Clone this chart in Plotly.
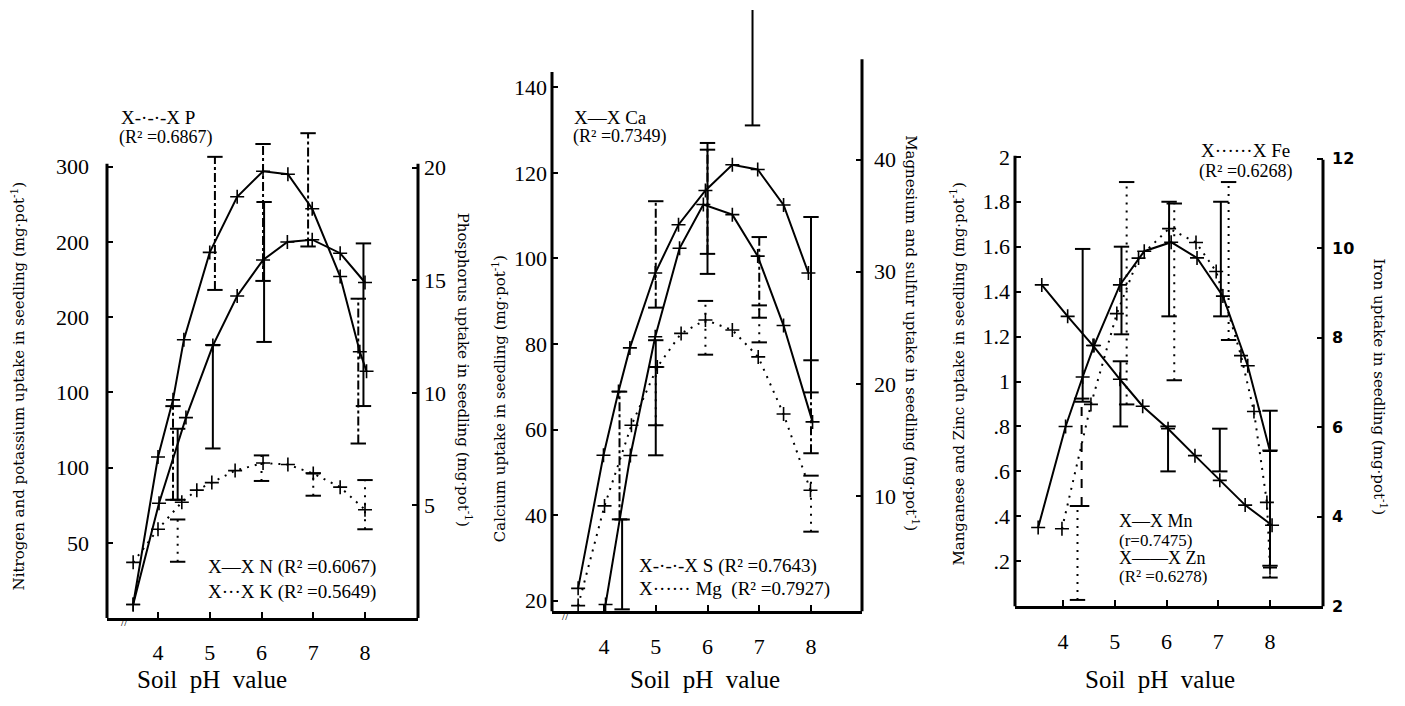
import plotly.graph_objects as go

# The page body has an 8 px margin, so the figure is drawn 16 px smaller
# and every layout position is given in page pixels through px()/py().
PAGE_W, PAGE_H = 1405, 706
OFF = 8
W, H = PAGE_W - 2 * OFF, PAGE_H - 2 * OFF

# ---------------- Panel 1 : N, K (left axis), P (right axis) ----------------
ph_N = [3.52, 4.0, 4.29, 4.5, 5.0, 5.53, 6.03, 6.51, 6.98, 7.52, 7.9, 8.03]
val_N = [9, 107, 145, 185, 243, 280, 297, 295, 272, 227, 177, 164]
ph_P = [3.52, 4.02, 4.54, 5.06, 5.53, 6.03, 6.5, 6.98, 7.52, 8.0]
val_P = [0.6, 5.1, 8.9, 12.1, 14.3, 15.9, 16.7, 16.8, 16.2, 14.9]
ph_K = [3.52, 4.0, 4.46, 4.75, 5.04, 5.49, 6.03, 6.51, 7.0, 7.52, 8.0]
val_K = [37, 59, 77, 85, 90, 98, 103, 102, 96, 87, 72]

eb1_dd_x = [4.29, 5.1, 6.03, 6.9, 7.87]
eb1_dd_lo = [5.25, 14.57, 14.97, 16.5, 7.75]
eb1_dd_hi = [9.41, 20.48, 21.05, 21.53, 14.18]
eb1_s_x = [4.38, 5.06, 6.05, 7.97]
eb1_s_lo = [78.6, 112.7, 183.5, 140.9]
eb1_s_hi = [125.8, 181.5, 276.5, 249.0]
eb1_d_x = [4.38, 6.0, 7.0, 8.0]
eb1_d_lo = [37.4, 91.1, 81.3, 59.0]
eb1_d_hi = [65.5, 108.1, 96.3, 91.7]

p1_left_ticks = [50, 100, 150, 200, 250, 300]
p1_left_text = ["50", "100", "100", "200", "200", "300"]
p1_right_ticks = [5, 10, 15, 20]

# ---------------- Panel 2 : Ca (left), S, Mg (right) ----------------
ph_Ca = [3.5, 3.99, 4.28, 4.5, 4.99, 5.44, 5.96, 6.48, 6.97, 7.47, 7.95]
val_Ca = [22.9, 54.0, 68.9, 79.1, 96.6, 107.9, 115.9, 121.9, 120.8, 112.5, 96.6]
ph_S = [4.03, 4.51, 4.99, 5.46, 5.92, 6.48, 6.97, 7.47, 8.03]
val_S = [0.3, 13.6, 24.2, 32.1, 36.0, 35.1, 31.4, 25.2, 16.6]
ph_Mg = [3.5, 4.01, 4.53, 5.03, 5.49, 5.96, 6.48, 6.98, 7.47, 7.99]
val_Mg = [0.2, 9.1, 16.3, 21.5, 24.5, 25.7, 24.8, 22.4, 17.3, 10.5]

eb2_s_x = [4.35, 5.0, 6.0, 6.87, 8.0]
eb2_s_lo = [18.0, 54.0, 96.4, 131.1, 68.7]
eb2_s_hi = [39.0, 80.9, 127.0, 158.1, 109.7]
eb2_dd_x = [4.3, 5.0, 6.0, 7.0, 8.0]
eb2_dd_lo = [7.9, 26.8, 31.6, 25.9, 13.8]
eb2_dd_hi = [19.3, 36.3, 40.9, 33.1, 22.1]
eb2_d_x = [5.0, 5.96, 7.0, 8.0]
eb2_d_lo = [16.3, 22.6, 23.7, 6.8]
eb2_d_hi = [21.5, 27.4, 27.0, 11.8]

p2_left_ticks = [20, 40, 60, 80, 100, 120, 140]
p2_right_ticks = [10, 20, 30, 40]

# ---------------- Panel 3 : Mn, Zn (left), Fe (right) ----------------
ph_Mn = [3.59, 4.09, 4.58, 5.10, 5.54, 6.03, 6.55, 7.03, 7.52, 8.04]
val_Mn = [1.43, 1.29, 1.16, 1.01, 0.89, 0.79, 0.67, 0.56, 0.45, 0.36]
ph_Zn = [3.52, 4.05, 4.38, 4.6, 5.1, 5.57, 6.09, 6.59, 7.09, 7.57, 8.0]
val_Zn = [0.35, 0.80, 1.02, 1.16, 1.43, 1.58, 1.62, 1.55, 1.38, 1.07, 0.69]
ph_Fe = [3.98, 4.54, 5.04, 5.46, 6.05, 6.57, 6.96, 7.44, 7.69, 7.94, 8.0]
val_Fe = [3.73, 6.51, 8.54, 9.78, 10.44, 10.13, 9.48, 7.60, 6.35, 4.32, 2.86]

eb3_s_x = [4.38, 5.13, 5.11, 6.05, 6.03, 7.05, 7.03, 8.0]
eb3_s_lo = [0.91, 1.21, 0.80, 1.29, 0.60, 1.29, 0.60, 0.18]
eb3_s_hi = [1.59, 1.60, 1.09, 1.80, 0.80, 1.80, 0.79, 0.87]
eb3_dd_x = [4.36]
eb3_dd_lo = [4.24]
eb3_dd_hi = [6.64]
eb3_d_x = [4.28, 5.23, 6.15, 7.2, 8.0]
eb3_d_lo = [2.14, 6.51, 7.05, 7.95, 2.64]
eb3_d_hi = [4.24, 11.48, 11.0, 11.48, 5.48]

p3_left_ticks = [0.2, 0.4, 0.6, 0.8, 1.0, 1.2, 1.4, 1.6, 1.8, 2.0]
p3_left_text = [".2", ".4", ".6", ".8", "1", "1.2", "1.4", "1.6", "1.8", "2"]
p3_right_ticks = [2, 4, 6, 8, 10, 12]

ph_ticks = [4, 5, 6, 7, 8]

SERIF = "Liberation Serif, DejaVu Serif, serif"
TITLE_FONT = "DejaVu Serif, Liberation Serif, serif"
DOT = "2px,6px"


def px(x):
    return (x - OFF) / W


def py(y):
    return 1 - (y - OFF) / H


def vrange(ya, va, yb, vb, y_bot, y_top):
    s = (vb - va) / (yb - ya)
    return [va + (y_bot - ya) * s, va + (y_top - ya) * s]


def xr(xa, va, xb, vb, x_left, x_right):
    s = (vb - va) / (xb - xa)
    return [va + (x_left - xa) * s, va + (x_right - xa) * s]


def series(x, y, dash, xa, ya):
    return go.Scatter(
        x=x, y=y, mode="lines+markers", xaxis=xa, yaxis=ya,
        line=dict(color="black", width=2, dash=dash),
        marker=dict(symbol="cross-thin", size=10, color="black",
                    line=dict(width=1.6, color="black")),
        showlegend=False, hoverinfo="skip", cliponaxis=False)


def ebars(xs, lo, hi, dash, xa, ya):
    X, Y = [], []
    for x, l, h in zip(xs, lo, hi):
        X += [x, x, None]
        Y += [l, h, None]
    return go.Scatter(
        x=X, y=Y, mode="lines+markers", xaxis=xa, yaxis=ya,
        line=dict(color="black", width=2, dash=dash),
        marker=dict(symbol="line-ew", size=11, color="black",
                    line=dict(width=2, color="black")),
        showlegend=False, hoverinfo="skip", cliponaxis=False)


fig = go.Figure()
# panel 1
fig.add_trace(series(ph_N, val_N, "solid", "x", "y"))
fig.add_trace(series(ph_K, val_K, DOT, "x", "y"))
fig.add_trace(series(ph_P, val_P, "solid", "x", "y2"))
fig.add_trace(ebars(eb1_dd_x, eb1_dd_lo, eb1_dd_hi, "dashdot", "x", "y2"))
fig.add_trace(ebars(eb1_s_x, eb1_s_lo, eb1_s_hi, "solid", "x", "y"))
fig.add_trace(ebars(eb1_d_x, eb1_d_lo, eb1_d_hi, DOT, "x", "y"))
# panel 2
fig.add_trace(series(ph_Ca, val_Ca, "solid", "x2", "y3"))
fig.add_trace(series(ph_S, val_S, "solid", "x2", "y4"))
fig.add_trace(series(ph_Mg, val_Mg, DOT, "x2", "y4"))
fig.add_trace(ebars(eb2_s_x, eb2_s_lo, eb2_s_hi, "solid", "x2", "y3"))
fig.add_trace(ebars(eb2_dd_x, eb2_dd_lo, eb2_dd_hi, "dashdot", "x2", "y4"))
fig.add_trace(ebars(eb2_d_x, eb2_d_lo, eb2_d_hi, DOT, "x2", "y4"))
# panel 3
fig.add_trace(series(ph_Mn, val_Mn, "solid", "x3", "y5"))
fig.add_trace(series(ph_Zn, val_Zn, "solid", "x3", "y5"))
fig.add_trace(series(ph_Fe, val_Fe, DOT, "x3", "y6"))
fig.add_trace(ebars(eb3_s_x, eb3_s_lo, eb3_s_hi, "solid", "x3", "y5"))
fig.add_trace(ebars(eb3_dd_x, eb3_dd_lo, eb3_dd_hi, "dash", "x3", "y6"))
fig.add_trace(ebars(eb3_d_x, eb3_d_lo, eb3_d_hi, DOT, "x3", "y6"))

TOP = 10
tickfont = dict(family=SERIF, size=22, color="black")


def xaxis_cfg(x0, x1, rng, anchor):
    return dict(domain=[px(x0), px(x1)], range=rng, anchor=anchor,
                tickvals=ph_ticks, ticks="inside", ticklen=6, tickwidth=2,
                tickcolor="black", showline=True, linewidth=3,
                linecolor="black", showgrid=False, zeroline=False,
                tickfont=tickfont, ticklabelstandoff=13)


def yaxis_cfg(y0, rng, anchor, side, tickvals, ticktext=None,
              overlay=None, standoff=3, font=None):
    d = dict(range=rng, anchor=anchor, side=side, tickvals=tickvals,
             ticks="inside", ticklen=6, tickwidth=2, tickcolor="black",
             showline=False, showgrid=False, zeroline=False,
             tickfont=font or tickfont, ticklabelstandoff=standoff)
    if ticktext is not None:
        d["ticktext"] = ticktext
    if overlay:
        d["overlaying"] = overlay
    else:
        d["domain"] = [py(y0), py(TOP)]
    return d


layout = dict(
    width=W, height=H, margin=dict(l=0, r=0, t=0, b=0),
    paper_bgcolor="white", plot_bgcolor="white", showlegend=False,
    xaxis=xaxis_cfg(107, 418, xr(158, 4, 365, 8, 107, 418), "y"),
    xaxis2=xaxis_cfg(552, 862, xr(604, 4, 811, 8, 552, 862), "y3"),
    xaxis3=xaxis_cfg(1015, 1323, xr(1063, 4, 1270, 8, 1015, 1323), "y5"),
    yaxis=yaxis_cfg(627, vrange(627, 0, 169, 300, 627, TOP), "x", "left",
                    p1_left_ticks, p1_left_text, standoff=17),
    yaxis2=yaxis_cfg(627, vrange(627, 0, 170, 20, 627, TOP), "x", "right",
                     p1_right_ticks, overlay="y", standoff=5),
    yaxis3=yaxis_cfg(620, vrange(609.5, 20, 88.5, 140, 620, TOP), "x2",
                     "left", p2_left_ticks, standoff=4),
    yaxis4=yaxis_cfg(620, vrange(503, 10, 162, 40, 620, TOP), "x2", "right",
                     p2_right_ticks, overlay="y3", standoff=11),
    yaxis5=yaxis_cfg(615, vrange(615, 0, 159, 2, 615, TOP), "x3", "left",
                     p3_left_ticks, p3_left_text, standoff=4),
    yaxis6=yaxis_cfg(615, vrange(615, 2, 161, 12, 615, TOP), "x3", "right",
                     p3_right_ticks, overlay="y5", standoff=8,
                     font=dict(family="DejaVu Sans", size=16, color="black",
                               weight="bold")),
)
fig.update_layout(**layout)

# axis spines (vertical)
spines = [(107, 627, 166), (418, 627, 166), (552, 620, 73), (862, 620, 60),
          (1015, 615, 158), (1323, 615, 162)]
for x, yb, yt in spines:
    fig.add_shape(type="line", xref="paper", yref="paper", x0=px(x), x1=px(x),
                  y0=py(yb), y1=py(yt), line=dict(color="black", width=3))


def ann(text, x, y, size=14, angle=0, xanchor="left", family=SERIF,
        shift=True):
    # horizontal text: shift down a little so the glyphs (not the line box)
    # are centred on the requested page position
    yy = y + (0.3 * size if (angle == 0 and shift) else 0)
    fig.add_annotation(text=text, x=px(x), y=py(yy), xref="paper",
                       yref="paper", showarrow=False, textangle=angle,
                       xanchor=xanchor, yanchor="middle", borderpad=0,
                       font=dict(family=family, size=size, color="black"))


unit = "(mg·pot<sup>-1</sup>)"
# axis titles
ann("Nitrogen and potassium uptake in seedling " + unit, 18, 392, 15, -90, "center", TITLE_FONT)
ann("Phosphorus uptake in seedling " + unit, 465, 375, 15, 90, "center", TITLE_FONT)
ann("Calcium uptake in seedling " + unit, 499, 405, 15, -90, "center", TITLE_FONT)
ann("Magnesium and sulfur uptake in seedling " + unit, 912, 338, 15, 90, "center", TITLE_FONT)
ann("Manganese and Zinc uptake in seedling " + unit, 957, 380, 15, -90, "center", TITLE_FONT)
ann("Iron uptake in seedling " + unit, 1380, 392, 15, 90, "center", TITLE_FONT)
for xc in [212, 705, 1160]:
    ann("Soil  pH  value", xc, 689, 25, 0, "center", shift=False)

# axis-break marks near the origins
ann("//", 120, 627, 12)
ann("//", 561, 621, 12)

# legend-like labels
ann("X-·-·-X P", 120, 113, 19)
ann("(R² =0.6867)", 118, 134, 18)
ann("X—X N (R² =0.6067)", 207, 570, 19)
ann("X···X K (R² =0.5649)", 207, 595, 19)
ann("X—X Ca", 573, 113, 19)
ann("(R² =0.7349)", 572, 133, 18)
ann("X-·-·-X S (R² =0.7643)", 638, 568, 19)
ann("X······ Mg  (R² =0.7927)", 638, 592, 19)
ann("X······X Fe", 1200, 147, 19)
ann("(R² =0.6268)", 1198, 168, 18)
ann("X—X Mn", 1118, 523, 18)
ann("(r=0.7475)", 1118, 543, 17)
ann("X——X Zn", 1118, 561, 18)
ann("(R² =0.6278)", 1118, 580, 17)

fig.write_html("out.html")
